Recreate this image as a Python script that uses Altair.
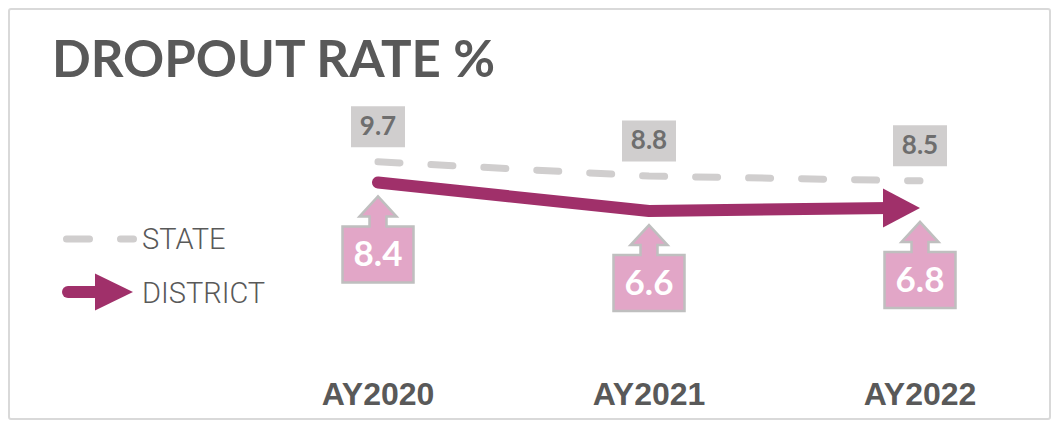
import altair as alt
import pandas as pd

# ---- data ----
years = ["AY2020", "AY2021", "AY2022"]
state_rate = [9.7, 8.8, 8.5]
district_rate = [8.4, 6.6, 6.8]

state_df = pd.DataFrame({"year": years, "rate": state_rate, "series": "STATE"})
district_df = pd.DataFrame({"year": years, "rate": district_rate, "series": "DISTRICT"})

W, H = 1043, 412
PURPLE = "#A0306A"
PINK = "#E2A6C7"
LGRAY = "#D0CECE"
DGRAY = "#595959"

xs = alt.X("year:N", sort=years, axis=None,
           scale=alt.Scale(type="point", domain=years, range=[370, 912], padding=0))
ys = alt.Y("rate:Q", axis=None, scale=alt.Scale(domain=[0, 12], range=[308, 117.2]))

# frame
frame = alt.Chart(pd.DataFrame({"a": [0]})).mark_rect(
    fill="white", stroke="#D9D9D9", strokeWidth=2, cornerRadius=2
).encode(x=alt.value(1), x2=alt.value(W - 1), y=alt.value(1), y2=alt.value(H - 1))

# title
title = alt.Chart(pd.DataFrame({"t": ["DROPOUT RATE %"]})).mark_text(
    font="Lato", fontWeight="bold", fontSize=51, color=DGRAY, align="left", baseline="alphabetic"
).encode(x=alt.value(44), y=alt.value(69), text="t:N")

# state dashed line
state_line = alt.Chart(state_df).mark_line(
    color=LGRAY, strokeWidth=7, strokeDash=[22, 31], strokeCap="round"
).encode(x=xs, y=ys)

# state label boxes
state_box = alt.Chart(state_df).mark_point(
    shape="M-27,-55.5L27,-55.5L27,-14.5L-27,-14.5Z", size=4, filled=True, fill=LGRAY,
    opacity=1, strokeWidth=0
).encode(x=xs, y=ys)
state_txt = alt.Chart(state_df).mark_text(
    font="Lato", fontWeight="bold", fontSize=26, color="#6E6E6E", baseline="middle", yOffset=-35
).encode(x=xs, y=ys, text=alt.Text("rate:Q", format=".1f"))

# district line (ends under arrow head)
district_line = alt.Chart(district_df).transform_calculate(
    off="datum.year == 'AY2022' ? -30 : 0"
).mark_line(
    color=PURPLE, strokeWidth=12, strokeCap="round", strokeJoin="round"
).encode(x=xs, y=ys, xOffset=alt.XOffset("off:Q", scale=None))

district_head = alt.Chart(district_df).transform_filter(
    alt.datum.year == "AY2022"
).mark_point(
    shape="M-37,-19.5L0,0L-37,19.5Z", size=4, filled=True, fill=PURPLE, opacity=1, strokeWidth=0
).encode(x=xs, y=ys)

# district callouts
callout = alt.Chart(district_df).mark_point(
    shape="M0,14L18.5,34L8.5,34L8.5,44L35.5,44L35.5,100L-35.5,100L-35.5,44L-8.5,44L-8.5,34L-18.5,34Z",
    size=4, filled=True, fill=PINK, stroke="#BFBFBF", strokeWidth=2.5, opacity=1
).encode(x=xs, y=ys)
callout_txt = alt.Chart(district_df).mark_text(
    font="Lato", fontWeight="bold", fontSize=35, color="white", baseline="middle", yOffset=73
).encode(x=xs, y=ys, text=alt.Text("rate:Q", format=".1f"))

# x labels
xlab = alt.Chart(pd.DataFrame({"year": years})).mark_text(
    font="Liberation Sans", fontWeight="bold", fontSize=32, color=DGRAY, baseline="alphabetic"
).encode(x=xs, y=alt.value(397), text="year:N")

# legend
leg_src = pd.DataFrame({"a": [0]})
leg_state = alt.Chart(leg_src).mark_rule(
    color=LGRAY, strokeWidth=7, strokeDash=[23, 31], strokeCap="round"
).encode(x=alt.value(58.5), x2=alt.value(125.5), y=alt.value(231))
leg_dist = alt.Chart(leg_src).mark_rule(
    color=PURPLE, strokeWidth=12, strokeCap="round"
).encode(x=alt.value(60), x2=alt.value(100), y=alt.value(284))
leg_head = alt.Chart(leg_src).mark_point(
    shape="M-38,-18.5L0,0L-38,18.5Z", size=4, filled=True, fill=PURPLE, opacity=1, strokeWidth=0
).encode(x=alt.value(125), y=alt.value(284))
leg_txt = alt.Chart(pd.DataFrame({"t": ["STATE", "DISTRICT"], "yy": [241, 295]})).mark_text(
    font="Roboto", fontWeight=300, fontSize=29, color=DGRAY, align="left", baseline="alphabetic"
).encode(x=alt.value(134), y=alt.Y("yy:Q", scale=None), text="t:N")

chart = alt.layer(
    frame, title, state_line, state_box, state_txt, district_line, district_head,
    callout, callout_txt, xlab, leg_state, leg_dist, leg_head, leg_txt
).properties(
    width=W, height=H, padding=0, autosize=alt.AutoSizeParams(type="none"), background="white"
).configure_view(stroke=None)

chart.save("out.html", embed_options={"renderer": "svg", "actions": False})
